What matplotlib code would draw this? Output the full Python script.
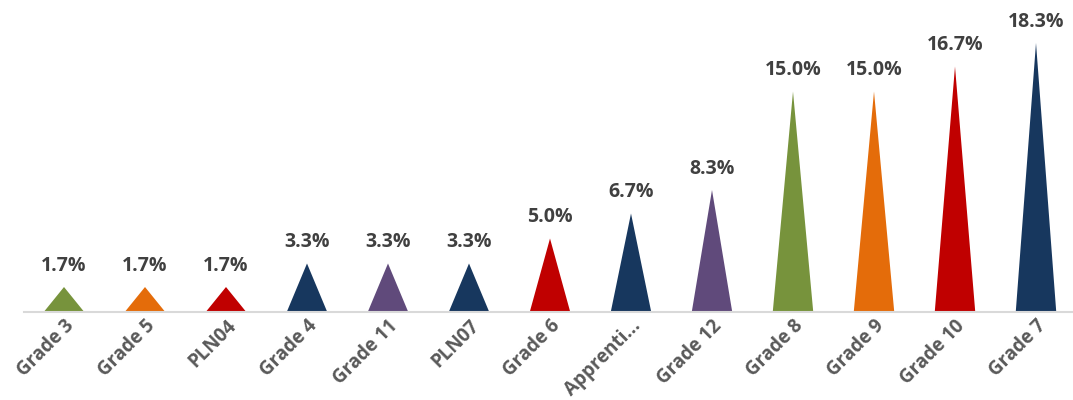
import matplotlib
matplotlib.use('Agg')
import matplotlib.pyplot as plt
from matplotlib.patches import Polygon

categories = ['Grade 3', 'Grade 5', 'PLN04', 'Grade 4', 'Grade 11', 'PLN07', 'Grade 6',
              'Apprenti...', 'Grade 12', 'Grade 8', 'Grade 9', 'Grade 10', 'Grade 7']
shares = [1.7, 1.7, 1.7, 3.3, 3.3, 3.3, 5.0, 6.7, 8.3, 15.0, 15.0, 16.7, 18.3]

GREEN, ORANGE, RED, NAVY, PURPLE = '#77933C', '#E46C0A', '#C00000', '#17375E', '#604A7B'
colors = [GREEN, ORANGE, RED, NAVY, PURPLE, NAVY, RED, NAVY, PURPLE, GREEN, ORANGE, RED, NAVY]

plt.rcParams['font.family'] = ['Open Sans', 'DejaVu Sans']

fig = plt.figure(figsize=(10.73, 4.0), dpi=100)
ax = fig.add_axes([23.5 / 1073, 88 / 400, 1053 / 1073, 294 / 400])

# pointed bars: a triangle per category, base half a slot wide
half = 0.25
for i, (v, c) in enumerate(zip(shares, colors)):
    tri = Polygon([(i - half, 0), (i, v), (i + half, 0)], closed=True,
                  facecolor=c, edgecolor='none')
    ax.add_patch(tri)
    ax.annotate(f'{v:.1f}%', (i, v), xytext=(0, 8), textcoords='offset points',
                ha='center', va='bottom', fontsize=14, fontweight='bold',
                color='#404040')

ax.set_xlim(-0.5, len(categories) - 0.5)
ax.set_ylim(0, 20)
ax.set_xticks(range(len(categories)))
ax.set_xticklabels(categories, rotation=45, ha='right', rotation_mode='anchor',
                   fontsize=13.5, fontweight='bold', color='#595959')
ax.tick_params(axis='x', length=0, pad=3)
ax.set_yticks([])
for side in ['top', 'right', 'left']:
    ax.spines[side].set_visible(False)
ax.spines['bottom'].set_color('#D9D9D9')
ax.spines['bottom'].set_linewidth(1.5)

fig.savefig('out.png', dpi=100)
